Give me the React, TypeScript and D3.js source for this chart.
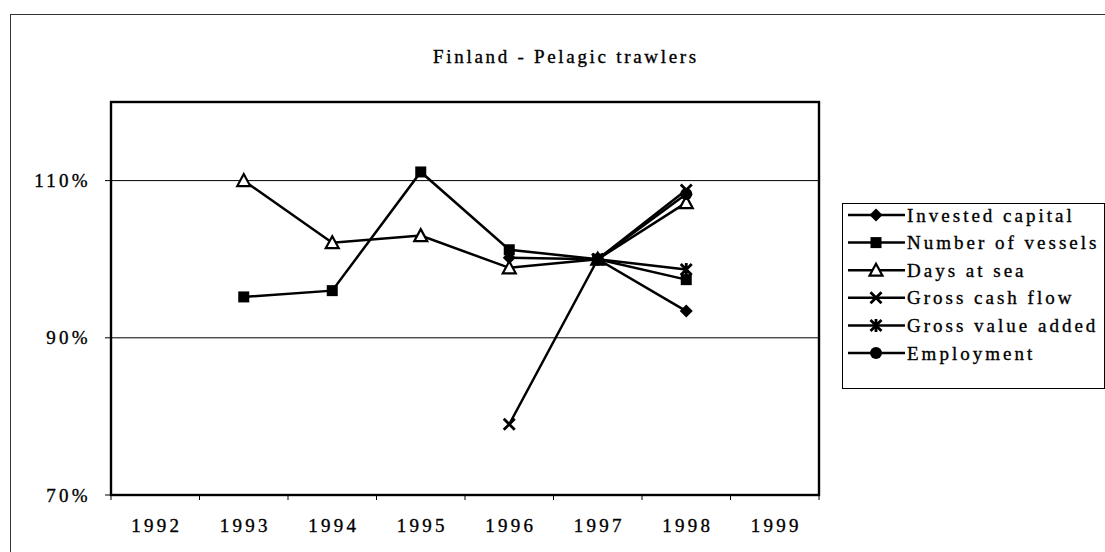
import React from "react";
import * as d3 from "d3";

const years = ["1992", "1993", "1994", "1995", "1996", "1997", "1998", "1999"];
const yTicks = [70, 90, 110];
const gridValues = [90, 110];

const investedCapital: (number | null)[] = [null, null, null, null, 100.2, 100, 93.4, null];
const numberOfVessels: (number | null)[] = [null, 95.2, 96.0, 111.1, 101.2, 100, 97.4, null];
const daysAtSea: (number | null)[] = [null, 110.0, 102.1, 103.0, 98.9, 100, 107.2, null];
const grossCashFlow: (number | null)[] = [null, null, null, null, 79.0, 100, 108.8, null];
const grossValueAdded: (number | null)[] = [null, null, null, null, null, 100, 98.7, null];
const employment: (number | null)[] = [null, null, null, null, null, 100, 108.3, null];

const seriesNames = [
  "Invested capital",
  "Number of vessels",
  "Days at sea",
  "Gross cash flow",
  "Gross value added",
  "Employment",
];
const seriesData = [investedCapital, numberOfVessels, daysAtSea, grossCashFlow, grossValueAdded, employment];
const markerKinds = ["diamond", "square", "triangle", "x", "asterisk", "circle"];

const W = 1105;
const H = 552;
const plot = { left: 111, right: 819, top: 102, bottom: 495 };
const FONT = "'Liberation Serif', 'Times New Roman', serif";

function Marker({ kind, x, y }: { kind: string; x: number; y: number }) {
  const s = 6.5;
  switch (kind) {
    case "diamond":
      return <path d={`M${x},${y - s}L${x + s},${y}L${x},${y + s}L${x - s},${y}Z`} fill="#000" />;
    case "square":
      return <rect x={x - 5.5} y={y - 5.5} width={11} height={11} fill="#000" />;
    case "triangle":
      return (
        <path
          d={`M${x},${y - 6.5}L${x + 6.5},${y + 5.5}L${x - 6.5},${y + 5.5}Z`}
          fill="#fff"
          stroke="#000"
          strokeWidth={2.2}
        />
      );
    case "x":
      return (
        <path
          d={`M${x - 5.5},${y - 5.5}L${x + 5.5},${y + 5.5}M${x - 5.5},${y + 5.5}L${x + 5.5},${y - 5.5}`}
          stroke="#000"
          strokeWidth={2.8}
        />
      );
    case "asterisk":
      return (
        <path
          d={`M${x - 5.5},${y - 5.5}L${x + 5.5},${y + 5.5}M${x - 5.5},${y + 5.5}L${x + 5.5},${y - 5.5}M${x},${y - 6.5}L${x},${y + 6.5}`}
          stroke="#000"
          strokeWidth={2.8}
        />
      );
    case "circle":
      return <circle cx={x} cy={y} r={6} fill="#000" />;
  }
  return null;
}

export default function App() {
  const x = d3.scaleBand<string>().domain(years).range([plot.left, plot.right]).paddingInner(0).paddingOuter(0);
  const y = d3.scaleLinear().domain([70, 120]).range([plot.bottom, plot.top]);
  const cx = (yr: string) => (x(yr) as number) + x.bandwidth() / 2;

  const line = d3
    .line<{ yr: string; v: number | null }>()
    .defined((d) => d.v !== null)
    .x((d) => cx(d.yr))
    .y((d) => y(d.v as number));

  const boundaries = years.map((yr) => x(yr) as number).concat([plot.right]);

  const legend = { x: 842, y: 203, w: 262, h: 185, row0: 215, rowStep: 27.6 };
  const textStyle = { stroke: "#000", strokeWidth: 0.35 };

  return (
    <svg
      width={W}
      height={H}
      style={{ position: "absolute", left: 0, top: 0, background: "#fff" }}
      fontFamily={FONT}
    >
      <rect x={0} y={0} width={W} height={H} fill="#fff" />
      {/* outer chart border */}
      <rect x={10.5} y={14.5} width={W + 10} height={H + 10} fill="none" stroke="#333" strokeWidth={1} />

      {/* title */}
      <text x={566} y={63} textAnchor="middle" fontSize={19} letterSpacing={2.7} fill="#000" {...textStyle}>
        Finland - Pelagic trawlers
      </text>

      {/* gridlines */}
      {gridValues.map((v) => (
        <line key={v} x1={plot.left} x2={plot.right} y1={y(v)} y2={y(v)} stroke="#000" strokeWidth={1} />
      ))}

      {/* y ticks and labels */}
      {yTicks.map((v) => (
        <g key={v}>
          <line x1={plot.left - 6} x2={plot.left} y1={y(v)} y2={y(v)} stroke="#000" strokeWidth={1} />
          <text
            x={91}
            y={y(v) + 6.5}
            textAnchor="end"
            fontSize={19}
            letterSpacing={3.3}
            fill="#000"
            {...textStyle}
          >
            {`${v}%`}
          </text>
        </g>
      ))}

      {/* x ticks and labels */}
      {boundaries.map((bx, i) => (
        <line key={i} x1={bx} x2={bx} y1={plot.bottom} y2={plot.bottom + 5} stroke="#000" strokeWidth={1} />
      ))}
      {years.map((yr) => (
        <text
          key={yr}
          x={cx(yr) + 1.5}
          y={532}
          textAnchor="middle"
          fontSize={19}
          letterSpacing={3.3}
          fill="#000"
          {...textStyle}
        >
          {yr}
        </text>
      ))}

      {/* plot area border */}
      <rect
        x={plot.left}
        y={plot.top}
        width={plot.right - plot.left}
        height={plot.bottom - plot.top}
        fill="none"
        stroke="#000"
        strokeWidth={2.4}
      />

      {/* series */}
      {seriesData.map((data, si) => {
        const pts = years.map((yr, i) => ({ yr, v: data[i] }));
        return (
          <g key={si}>
            <path d={line(pts) || ""} fill="none" stroke="#000" strokeWidth={2.5} />
            {pts
              .filter((p) => p.v !== null)
              .map((p) => (
                <Marker key={p.yr} kind={markerKinds[si]} x={cx(p.yr)} y={y(p.v as number)} />
              ))}
          </g>
        );
      })}

      {/* legend */}
      <rect x={legend.x + 0.5} y={legend.y + 0.5} width={legend.w} height={legend.h} fill="#fff" stroke="#000" strokeWidth={1} />
      {seriesNames.map((name, i) => {
        const ry = legend.row0 + i * legend.rowStep;
        return (
          <g key={name}>
            <line x1={848} x2={905} y1={ry} y2={ry} stroke="#000" strokeWidth={2.5} />
            <Marker kind={markerKinds[i]} x={876} y={ry} />
            <text x={907} y={ry + 6.5} fontSize={19} letterSpacing={3.0} fill="#000" {...textStyle}>
              {name}
            </text>
          </g>
        );
      })}
    </svg>
  );
}
